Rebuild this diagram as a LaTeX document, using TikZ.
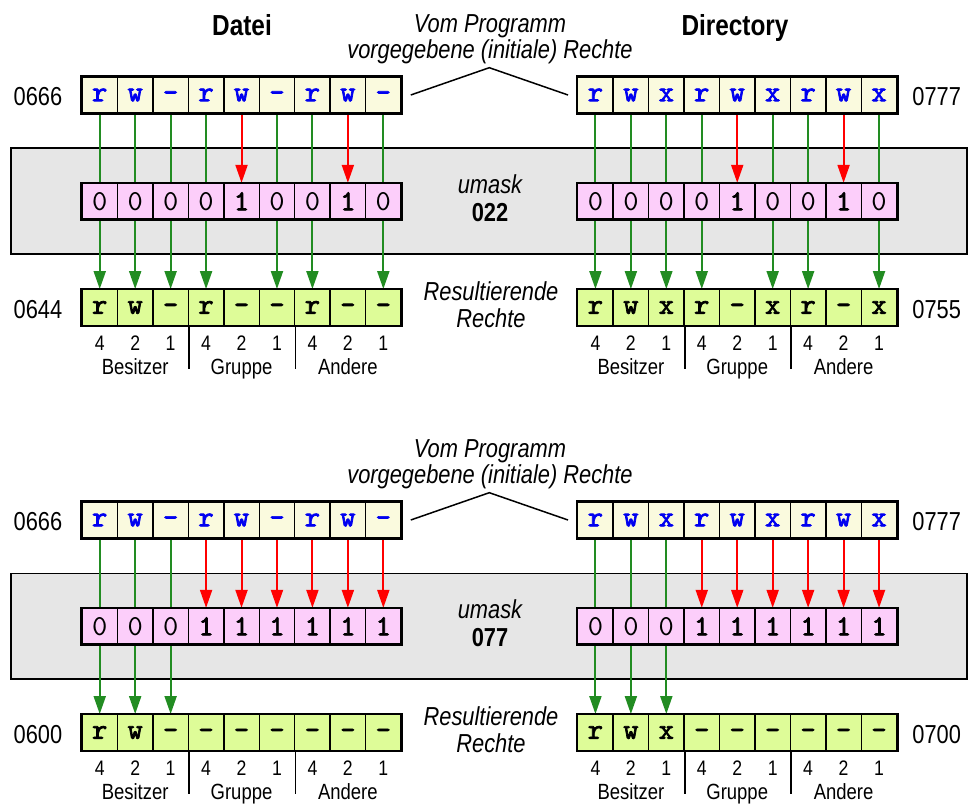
\documentclass[tikz,border=0pt]{standalone}
\usepackage{fontspec}
\setmainfont{Liberation Sans}[FakeStretch=0.84]
\newfontfamily\bitfont{lmmono10-regular}[Extension=.otf, BoldFont=lmmono10-regular, BoldFeatures={FakeBold=2.5}]
\usetikzlibrary{arrows.meta}

\definecolor{srcfill}{RGB}{250,250,222}
\definecolor{maskfill}{RGB}{252,206,250}
\definecolor{resfill}{RGB}{222,252,152}
\definecolor{panelgray}{RGB}{230,230,230}
\definecolor{okgreen}{RGB}{34,140,34}
\definecolor{permblue}{RGB}{0,0,240}

\newcommand\bitsize{\fontsize{29pt}{30pt}\selectfont}
\newcommand\cw{35.45}

\begin{document}
\begin{tikzpicture}[x=1pt, y=-1pt,
    cell/.style={draw, line width=1.4pt, minimum width=35.45pt, minimum height=35.5pt, inner sep=0pt},
    srcbit/.style={cell, fill=srcfill, text=permblue, font=\bitfont\bfseries\bitsize, text height=12.5pt, text depth=0pt},
    maskbit/.style={cell, fill=maskfill, font=\bitfont\bitsize},
    resbit/.style={cell, fill=resfill, font=\bitfont\bfseries\bitsize, text height=12.5pt, text depth=0pt},
    rowframe/.style={draw, line width=2.6pt},
    panel/.style={draw, line width=1.6pt, fill=panelgray},
    passline/.style={draw=okgreen, line width=2pt},
    passarrow/.style={passline, -{Triangle[length=18pt, width=12pt]}},
    blockarrow/.style={draw=red, line width=2pt, -{Triangle[length=18pt, width=12pt]}},
    lbl/.style={inner sep=0pt, anchor=base, font=\fontsize{26pt}{30pt}\selectfont},
    note/.style={lbl, font=\fontsize{26pt}{30pt}\selectfont\itshape},
    title/.style={lbl, font=\fontsize{29pt}{32pt}\selectfont\bfseries},
    weight/.style={lbl, font=\fontsize{21pt}{24pt}\selectfont},
    group/.style={lbl, font=\fontsize{22pt}{26pt}\selectfont},
    sep/.style={line width=1.5pt}]
\useasboundingbox (0,0) rectangle (968,805);

\node[title] (datei) at (242,36) {Datei};
\node[title] (dir) at (735,36) {Directory};

% one block per umask value
\foreach \sec/\dy/\gm/\um/\oL/\oR in {a/0/0/022/0644/0755, b/425/1/077/0600/0700} {
  \draw[panel] (11,{148.3+\dy}) rectangle (967,{254+\dy});

  \node[note] (\sec vom) at (490,{32.3+\dy}) {Vom Programm};
  \node[note] (\sec init) at (490,{58.3+\dy}) {vorgegebene (initiale) Rechte};
  \coordinate (\sec peak) at (489.3,{67.7+\dy});
  \node[note] (\sec umask) at (490,{193.3+\dy}) {umask};
  \node[lbl, font=\fontsize{26pt}{30pt}\selectfont\bfseries] (\sec val) at (490,{221.7+\dy}) {\um};
  \node[note] (\sec res) at (491,{300.7+\dy}) {Resultierende};
  \node[note] (\sec rech) at (491,{327.7+\dy}) {Rechte};

  \foreach \side/\xo/\xn/\third/\nsrc/\nres in {L/82/38/-/0666/\oL, R/577.7/936.7/x/0777/\oR} {
    \foreach \ch/\bit [count=\i] in {r/0,w/0,\third/0,r/\gm,w/1,\third/\gm,r/\gm,w/1,\third/\gm} {
      \node[srcbit] (\sec\side s\i) at ({\xo+(\i-0.5)*\cw},{95+\dy}) {\ch};
      \node[maskbit] (\sec\side m\i) at ({\xo+(\i-0.5)*\cw},{201.3+\dy}) {\ifnum\bit=1 \bfseries\fi\bit};
      \node[resbit] (\sec\side r\i) at ({\xo+(\i-0.5)*\cw},{307.5+\dy}) {\ifnum\bit=0 \ch\else-\fi};
      \ifnum\bit=0
        \draw[passline] (\sec\side s\i) -- (\sec\side m\i);
        \draw[passarrow] (\sec\side m\i) -- (\sec\side r\i);
      \else
        \draw[blockarrow] (\sec\side s\i) -- (\sec\side m\i);
      \fi
    }
    \draw[rowframe] (\sec\side s1.north west) rectangle (\sec\side s9.south east);
    \draw[rowframe] (\sec\side m1.north west) rectangle (\sec\side m9.south east);
    \draw[rowframe] (\sec\side r1.north west) rectangle (\sec\side r9.south east);

    \node[lbl] (\sec\side srcval) at (\xn,{105.3+\dy}) {\nsrc};
    \node[lbl] (\sec\side resval) at (\xn,{318.3+\dy}) {\nres};

    \foreach \w [count=\i] in {4,2,1,4,2,1,4,2,1}
      \node[weight] at ({\xo+(\i-0.5)*\cw},{350+\dy}) {\w};
    \node[group] at ({\xo+1.5*\cw},{374+\dy}) {Besitzer};
    \node[group] at ({\xo+4.5*\cw},{374+\dy}) {Gruppe};
    \node[group] at ({\xo+7.5*\cw},{374+\dy}) {Andere};
    \draw[sep] (\sec\side r3.south east) -- ++(0,43);
    \draw[sep] (\sec\side r6.south east) -- ++(0,43);
  }

  \draw[sep] ([xshift=9pt]\sec Ls9.east) -- (\sec peak) -- ([xshift=-9pt]\sec Rs1.west);
}
\end{tikzpicture}
\end{document}
